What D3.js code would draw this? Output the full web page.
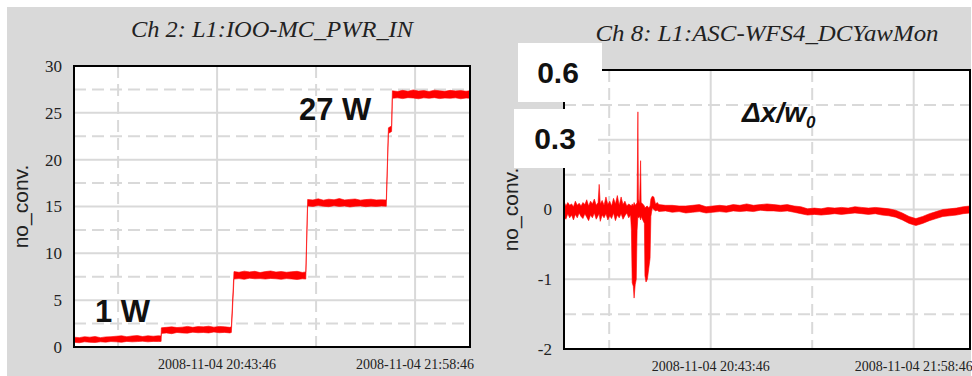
<!DOCTYPE html>
<html><head><meta charset="utf-8">
<script src="https://cdn.jsdelivr.net/npm/d3@7"></script>
<style>body{margin:0;background:#fff}svg{display:block}</style>
</head><body>
<svg id="c" width="972" height="376"></svg>
<script>
// ---------- shared time axis ----------
const startTime = "2008-11-04T19:49:34";
const endTime = "2008-11-04T22:19:34";
const xTickTimes = ["2008-11-04T20:43:46", "2008-11-04T21:58:46"];
const xTickLabels = ["2008-11-04 20:43:46", "2008-11-04 21:58:46"];
const xDashedTimes = ["2008-11-04T20:06:16", "2008-11-04T21:21:16"];

// ---------- Ch 2: L1:IOO-MC_PWR_IN ----------
const pwrTitle = "Ch 2: L1:IOO-MC_PWR_IN";
const pwrTicks = [0, 5, 10, 15, 20, 25, 30];
const pwrTickLabels = [0, 5, 10, 15, 20, 25, 30];
const pwrHalfTicks = [2.5, 7.5, 12.5, 17.5, 22.5, 27.5];
// minutes after startTime, lower and upper edge of the noisy trace
const pwrMinutes = [
  0,2,4,6,8,10,12,14,16,18,20,22,24,26,28,30,32,33.0,
  33.1,35,37,39,41,43,45,47,49,51,53,55,57,59,59.6,
  60.6,62.5,64.5,66.5,68.5,70.5,72.5,74.5,76.5,78.5,80.5,82.5,84.5,86.5,87.8,
  88.5,90.5,92.5,94.5,96.5,98.5,100.5,102.5,104.5,106.5,108.5,110.5,112.5,114.5,116.5,118.3,
  119.1,120.3,
  120.6,122.5,124.5,126.5,128.5,130.5,132.5,134.5,136.5,138.5,140.5,142.5,144.5,146.5,148.5,150
];
const pwrLo = [
  0.50,0.45,0.55,0.50,0.48,0.55,0.52,0.58,0.55,0.50,0.60,0.55,0.58,0.62,0.55,0.60,0.58,0.60,
  1.45,1.50,1.42,1.55,1.50,1.48,1.58,1.52,1.55,1.50,1.60,1.52,1.56,1.50,1.55,
  7.25,7.30,7.22,7.35,7.28,7.30,7.25,7.32,7.28,7.22,7.30,7.26,7.20,7.28,7.25,
  15.05,15.00,15.10,15.02,14.98,15.08,15.00,15.05,14.95,15.02,15.06,14.98,15.04,15.00,15.05,15.02,
  22.8,23.0,
  26.55,26.60,26.52,26.62,26.58,26.50,26.60,26.55,26.62,26.52,26.58,26.55,26.60,26.50,26.58,26.55
];
const pwrHi = [
  1.05,1.00,1.10,1.05,1.12,1.00,1.08,1.10,1.15,1.20,1.10,1.18,1.22,1.12,1.20,1.15,1.20,1.18,
  2.05,2.10,2.15,2.08,2.12,2.20,2.10,2.18,2.15,2.22,2.12,2.20,2.16,2.10,2.15,
  8.05,7.98,8.10,8.02,8.08,7.95,8.05,8.12,8.00,8.06,7.98,8.04,8.08,7.96,8.02,
  15.75,15.70,15.82,15.68,15.78,15.72,15.85,15.70,15.76,15.80,15.68,15.74,15.78,15.70,15.72,15.70,
  23.4,23.6,
  27.35,27.28,27.40,27.30,27.45,27.32,27.38,27.28,27.42,27.35,27.30,27.40,27.34,27.38,27.30,27.36
];

// ---------- Ch 8: L1:ASC-WFS4_DCYawMon ----------
const yawTitle = "Ch 8: L1:ASC-WFS4_DCYawMon";
const yawTicks = [-2, -1, 0, 1, 2];
const yawTickLabels = [-2, -1, 0]; // labels 1 and 2 are hidden under the 0.3 / 0.6 boxes
const yawHalfTicks = [-1.5, -0.5, 0.5, 1.5];
const yawMinutes = [
  0,0.7,1.4,2.1,2.8,3.5,4.2,4.9,5.6,6.3,7.0,7.7,8.4,9.1,9.8,10.5,11.2,11.9,12.6,13.0,13.4,
  14.1,14.8,15.5,16.2,16.9,17.6,18.3,19.0,19.7,20.4,21.1,21.8,22.5,23.2,23.9,24.6,
  24.9,25.2,25.6,25.9,26.3,26.7,27.0,27.3,27.5,27.9,28.3,28.5,29.1,29.7,29.9,30.3,30.8,31.3,31.8,32.1,32.6,33.2,33.8,34.5,
  35,37.5,40,42.5,45,47.5,50,52.5,55,57.5,60,62.5,65,67.5,70,72.5,75,77.5,80,82.5,85,87.5,90,92.5,95,97.5,
  100,102.5,105,107.5,110,112.5,115,117.5,120,122.5,125,127.5,130,132.5,135,137.5,140,142.5,145,147.5,150
];
const yawLo = [
  -0.10,-0.14,-0.06,-0.12,-0.08,-0.15,-0.07,-0.12,-0.05,-0.10,-0.13,-0.06,-0.11,-0.16,-0.08,-0.12,-0.05,-0.14,-0.09,-0.06,-0.17,
  -0.08,-0.12,-0.06,-0.15,-0.09,-0.13,-0.05,-0.16,-0.08,-0.12,-0.06,-0.14,-0.09,-0.05,-0.12,-0.08,
  -0.3,-1.05,-1.1,-1.27,-1.08,-1.0,-0.3,-0.1,-0.12,-0.1,-0.15,-0.1,-0.15,-0.2,-0.95,-1.04,-1.0,-0.85,-0.7,-0.1,0.02,0.0,-0.02,-0.01,
  -0.03,-0.02,-0.04,-0.03,-0.05,-0.04,-0.03,-0.05,-0.04,-0.03,-0.04,-0.02,-0.03,-0.02,-0.03,-0.01,-0.02,-0.02,-0.03,-0.02,-0.04,-0.06,-0.08,-0.07,-0.08,-0.07,
  -0.06,-0.07,-0.06,-0.05,-0.06,-0.07,-0.06,-0.08,-0.09,-0.11,-0.15,-0.20,-0.23,-0.20,-0.16,-0.13,-0.10,-0.09,-0.08,-0.06,-0.05
];
const yawHi = [
  0.12,0.05,0.10,0.06,0.08,0.04,0.12,0.06,0.09,0.05,0.10,0.07,0.14,0.05,0.12,0.08,0.15,0.06,0.10,0.36,0.08,
  0.13,0.06,0.18,0.07,0.12,0.05,0.16,0.08,0.20,0.06,0.18,0.07,0.12,0.05,0.08,0.06,
  0.05,0.08,0.05,0.10,0.06,0.08,0.1,1.4,0.15,0.08,0.7,0.1,0.08,0.05,0.02,0.04,0.05,0.02,0.05,0.15,0.19,0.18,0.08,0.10,
  0.07,0.06,0.06,0.05,0.05,0.06,0.07,0.04,0.05,0.06,0.05,0.07,0.06,0.08,0.06,0.07,0.08,0.07,0.06,0.07,0.05,0.04,0.01,0.02,0.01,0.03,
  0.02,0.03,0.02,0.04,0.03,0.02,0.03,0.02,0.01,-0.01,-0.05,-0.10,-0.13,-0.10,-0.06,-0.03,0.0,0.01,0.02,0.04,0.05
];

// ---------- drawing ----------
const svg = d3.select("#c");
const W = 972, H = 376;
const serif = "'Liberation Serif','Times New Roman',Times,serif";
const sans = "'Liberation Sans',Arial,Helvetica,sans-serif";
const t0 = new Date(startTime);

svg.append("rect").attr("x", 7).attr("y", 7).attr("width", W - 8).attr("height", H - 7).attr("fill", "#d9d9d9");

function panel(cfg) {
  const x = d3.scaleTime().domain([new Date(startTime), new Date(endTime)]).range([cfg.left, cfg.right]);
  const y = d3.scaleLinear().domain(cfg.yDomain).range([cfg.bottom, cfg.top]);
  const g = svg.append("g");
  g.append("rect").attr("x", cfg.left).attr("y", cfg.top)
    .attr("width", cfg.right - cfg.left).attr("height", cfg.bottom - cfg.top).attr("fill", "#fff");

  const grid = g.append("g").attr("stroke", "#d9d9d9").attr("stroke-width", 2);
  grid.selectAll(".hd").data(cfg.half).join("line")
    .attr("x1", cfg.left).attr("x2", cfg.right).attr("y1", d => y(d)).attr("y2", d => y(d))
    .attr("stroke-dasharray", "12,6");
  grid.selectAll(".vd").data(xDashedTimes).join("line")
    .attr("x1", d => x(new Date(d))).attr("x2", d => x(new Date(d))).attr("y1", cfg.top).attr("y2", cfg.bottom)
    .attr("stroke-dasharray", "12,6");
  grid.selectAll(".hs").data(cfg.ticks).join("line")
    .attr("x1", cfg.left).attr("x2", cfg.right).attr("y1", d => y(d)).attr("y2", d => y(d));
  grid.selectAll(".vs").data(xTickTimes).join("line")
    .attr("x1", d => x(new Date(d))).attr("x2", d => x(new Date(d))).attr("y1", cfg.top).attr("y2", cfg.bottom);

  const clipId = "clip" + cfg.id;
  svg.append("clipPath").attr("id", clipId).append("rect")
    .attr("x", cfg.left).attr("y", cfg.top).attr("width", cfg.right - cfg.left).attr("height", cfg.bottom - cfg.top);

  const data = cfg.minutes.map((m, i) => ({ t: d3.timeSecond.offset(t0, Math.round(m * 60)), lo: cfg.lo[i], hi: cfg.hi[i] }));
  const area = d3.area().x(d => x(d.t)).y0(d => y(d.lo)).y1(d => y(d.hi));
  g.append("path").datum(data).attr("d", area).attr("clip-path", `url(#${clipId})`)
    .attr("fill", "#ff0000").attr("stroke", "#ff0000").attr("stroke-width", 0.6).attr("stroke-linejoin", "bevel");

  g.append("rect").attr("x", cfg.left).attr("y", cfg.top)
    .attr("width", cfg.right - cfg.left).attr("height", cfg.bottom - cfg.top)
    .attr("fill", "none").attr("stroke", "#000").attr("stroke-width", 2);

  g.selectAll(".yt").data(cfg.tickLabels).join("text")
    .attr("x", cfg.left - 12).attr("y", d => y(d)).attr("dy", "0.35em")
    .attr("text-anchor", "end").attr("font-family", serif).attr("font-size", 17).attr("fill", "#222")
    .text(d => d);
  g.selectAll(".xt").data(xTickTimes).join("text")
    .attr("x", d => x(new Date(d))).attr("y", cfg.bottom + 22)
    .attr("text-anchor", "middle").attr("font-family", serif).attr("font-size", 14).attr("fill", "#222")
    .text((d, i) => xTickLabels[i]);
  g.append("text").attr("x", (cfg.left + cfg.right) / 2).attr("y", cfg.top - 29)
    .attr("text-anchor", "middle").attr("font-family", serif).attr("font-style", "italic")
    .attr("font-size", 24).attr("fill", "#222")
    .attr("textLength", cfg.titleWidth).attr("lengthAdjust", "spacingAndGlyphs")
    .text(cfg.title);
  g.append("text")
    .attr("transform", `translate(${cfg.left - 46},${(cfg.top + cfg.bottom) / 2}) rotate(-90)`)
    .attr("text-anchor", "middle").attr("font-family", sans).attr("font-size", 21).attr("fill", "#222")
    .text("no_conv.");
  return { x, y, g };
}

panel({ id: 1, left: 74, right: 470, top: 66, bottom: 347, yDomain: [0, 30], titleWidth: 282,
  ticks: pwrTicks, tickLabels: pwrTickLabels, half: pwrHalfTicks, minutes: pwrMinutes, lo: pwrLo, hi: pwrHi, title: pwrTitle });
panel({ id: 2, left: 564, right: 970, top: 70, bottom: 349, yDomain: [-2, 2], titleWidth: 343,
  ticks: yawTicks, tickLabels: yawTickLabels, half: yawHalfTicks, minutes: yawMinutes, lo: yawLo, hi: yawHi, title: yawTitle });

// annotations
function bold(txt, xx, yy, size, anchor) {
  return svg.append("text").attr("x", xx).attr("y", yy).attr("font-family", sans).attr("font-weight", "bold")
    .attr("font-size", size).attr("fill", "#111").attr("text-anchor", anchor || "start").text(txt);
}
bold("27 W", 299, 120, 31);
bold("1 W", 95, 322, 31);

svg.append("rect").attr("x", 518).attr("y", 43).attr("width", 84).attr("height", 59).attr("fill", "#fff");
svg.append("rect").attr("x", 514).attr("y", 109).attr("width", 84).attr("height", 59).attr("fill", "#fff");
bold("0.6", 558, 83, 30, "middle");
bold("0.3", 555, 149, 30, "middle");

const dx = svg.append("text").attr("x", 742).attr("y", 122).attr("font-family", sans)
  .attr("font-weight", "bold").attr("font-style", "italic").attr("font-size", 28).attr("fill", "#111");
dx.append("tspan").text("Δx/w");
dx.append("tspan").attr("font-size", 17).attr("dy", 6).text("0");
</script>
</body></html>
